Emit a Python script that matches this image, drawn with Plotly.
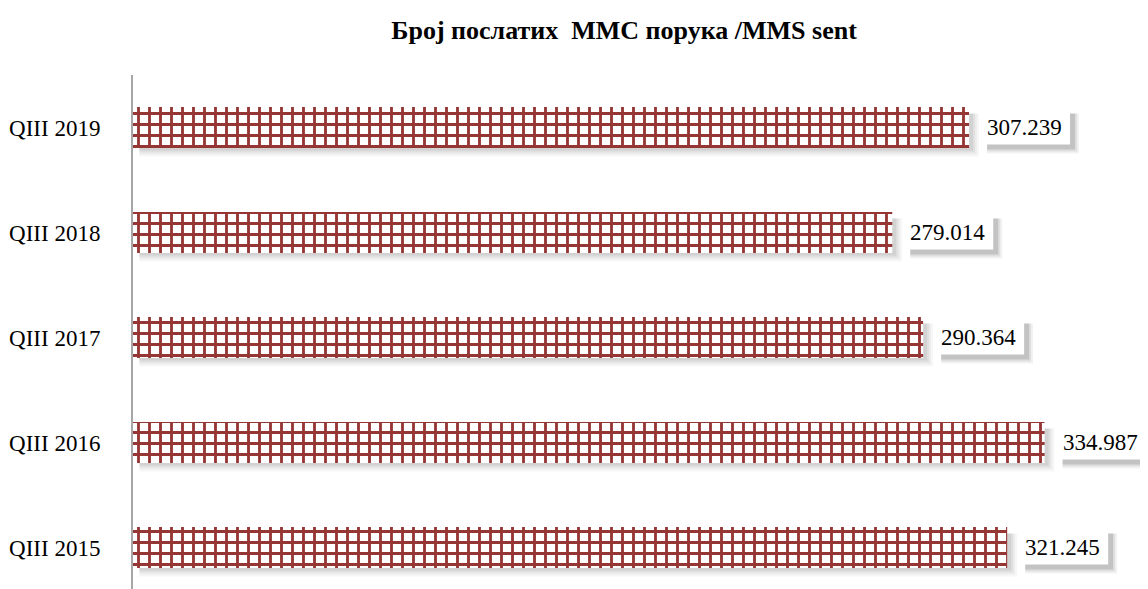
import plotly.graph_objects as go

categories = ["QIII 2015", "QIII 2016", "QIII 2017", "QIII 2018", "QIII 2019"]
values = [321.245, 334.987, 290.364, 279.014, 307.239]
labels = ["321.245", "334.987", "290.364", "279.014", "307.239"]

title = "<b>Број послатих  ММС порука /MMS sent</b>"
bar_color = "#963634"
serif = "'Liberation Serif', 'DejaVu Serif', serif"

fig = go.Figure()

shapes = []
for i, v in enumerate(values):
    # soft (layered) shadow behind bars
    for grow, a in [(9, 0.03), (7, 0.04), (5, 0.05), (3, 0.06)]:
        shapes.append(dict(type="rect", xref="x", yref="y",
                           xsizemode="pixel", ysizemode="pixel", xanchor=v, yanchor=i,
                           x0=-(v * 2.72) + 6, x1=grow + 1, y0=-20 - grow, y1=14,
                           fillcolor="rgba(0,0,0,%s)" % a, line=dict(width=0), layer="below"))
    # label box shadow and box
    for off, a in [(9, 0.05), (7, 0.08), (5, 0.12)]:
        shapes.append(dict(type="rect", xref="x", yref="y",
                           xsizemode="pixel", ysizemode="pixel", xanchor=v, yanchor=i,
                           x0=15 + 3, x1=15 + 86 + off, y0=-17 - off, y1=17 - 3,
                           fillcolor="rgba(0,0,0,%s)" % a, line=dict(width=0), layer="above"))
    shapes.append(dict(type="rect", xref="x", yref="y",
                       xsizemode="pixel", ysizemode="pixel", xanchor=v, yanchor=i,
                       x0=15, x1=15 + 86, y0=-17, y1=17,
                       fillcolor="white", line=dict(width=0), layer="above"))

fig.add_trace(go.Bar(
    x=values, y=list(range(len(categories))), orientation="h",
    width=0.39,
    marker=dict(color="white", line=dict(width=0),
                pattern=dict(shape="+", fgcolor=bar_color, bgcolor="white",
                             fgopacity=1, size=11, solidity=0.45, fillmode="replace")),
    hoverinfo="skip",
))

annotations = []
for i, (v, t) in enumerate(zip(values, labels)):
    annotations.append(dict(x=v, y=i, xref="x", yref="y", text=t, showarrow=False,
                            xanchor="left", xshift=16,
                            font=dict(family=serif, size=23, color="black")))

fig.update_layout(
    width=1140, height=581,
    margin=dict(l=125, r=0, t=67, b=0, autoexpand=False),
    paper_bgcolor="white", plot_bgcolor="white",
    title=dict(text=title, x=0.5404, xanchor="center", y=0.962, yanchor="middle",
               font=dict(family=serif, size=26, color="black")),
    showlegend=False,
    shapes=shapes,
    annotations=annotations,
    xaxis=dict(range=[0, 373], visible=False, showgrid=False, zeroline=False),
    yaxis=dict(range=[-0.395, 4.5], tickvals=list(range(len(categories))),
               ticktext=categories, showgrid=False, zeroline=False,
               showline=True, linecolor="#a6a6a6", linewidth=2,
               ticks="", ticklabelstandoff=26, automargin=False,
               tickfont=dict(family=serif, size=23, color="black")),
)

fig.write_html("out.html")
